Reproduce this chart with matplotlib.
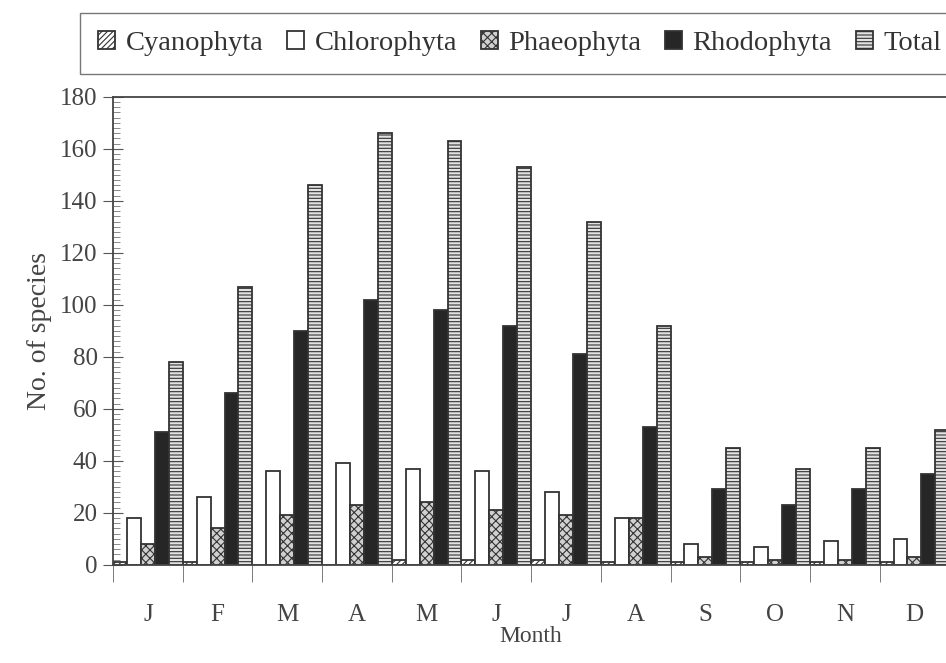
import matplotlib
matplotlib.use('Agg')
from matplotlib import pyplot as plt
from matplotlib.ticker import MultipleLocator
import numpy as np

months = ['J', 'F', 'M', 'A', 'M', 'J', 'J', 'A', 'S', 'O', 'N', 'D']
cyanophyta = [1, 1, 0, 0, 2, 2, 2, 1, 1, 1, 1, 1]
chlorophyta = [18, 26, 36, 39, 37, 36, 28, 18, 8, 7, 9, 10]
phaeophyta = [8, 14, 19, 23, 24, 21, 19, 18, 3, 2, 2, 3]
rhodophyta = [51, 66, 90, 102, 98, 92, 81, 53, 29, 23, 29, 35]
total = [78, 107, 146, 166, 163, 153, 132, 92, 45, 37, 45, 52]

plt.rcParams['font.family'] = ['Liberation Serif', 'DejaVu Serif']
plt.rcParams['hatch.linewidth'] = 0.8
plt.rcParams['hatch.color'] = '#555555'

fig = plt.figure(figsize=(9.46, 6.63), dpi=100)
ax = fig.add_axes([0.1195, 0.148, 0.884, 0.706])

series = [
    ('Cyanophyta', cyanophyta, 'white', '//////'),
    ('Chlorophyta', chlorophyta, 'white', None),
    ('Phaeophyta', phaeophyta, '#d0d0d0', 'xxxx'),
    ('Rhodophyta', rhodophyta, '#262626', None),
    ('Total', total, '#e2e2e2', '-----'),
]

x = np.arange(len(months))
w = 0.2
for k, (name, vals, fc, hatch) in enumerate(series):
    ax.bar(x + 0.1 + k * w, vals, width=w, color=fc, hatch=hatch,
           edgecolor='#333333', linewidth=1.3, label=name)

ax.set_xlim(0, 12)
ax.set_ylim(0, 180)
ax.set_xticks(x + 0.5)
ax.set_xticklabels(months, fontsize=18, color='#444444')
ax.set_xticks(np.arange(0, 13), minor=True)
ax.tick_params(axis='x', which='major', length=0, pad=28)
ax.tick_params(axis='x', which='minor', length=12, direction='out', color='#666666')

ax.yaxis.set_major_locator(MultipleLocator(20))
ax.yaxis.set_minor_locator(MultipleLocator(2))
ax.tick_params(axis='y', which='major', length=14, direction='inout', labelsize=18,
               labelcolor='#444444', color='#555555', pad=4)
ax.tick_params(axis='y', which='minor', length=5, direction='in', color='#777777')

for s in ['left', 'bottom', 'top']:
    ax.spines[s].set_color('#444444')
    ax.spines[s].set_linewidth(1.3)
ax.spines['right'].set_visible(False)

ax.set_xlabel('Month', fontsize=17, color='#444444', labelpad=0)
ax.set_ylabel('No. of species', fontsize=20, color='#444444', labelpad=6)

leg = fig.legend(loc='upper left', bbox_to_anchor=(0.085, 0.98), ncol=5,
                 fontsize=20.5, frameon=True, fancybox=False, handlelength=0.6,
                 handleheight=0.6, handletextpad=0.35, columnspacing=0.85,
                 borderpad=0.63, borderaxespad=0)
leg.get_frame().set_edgecolor('#555555')
leg.get_frame().set_linewidth(1.0)
for t in leg.get_texts():
    t.set_color('#333333')

fig.savefig('out.png', dpi=100)
